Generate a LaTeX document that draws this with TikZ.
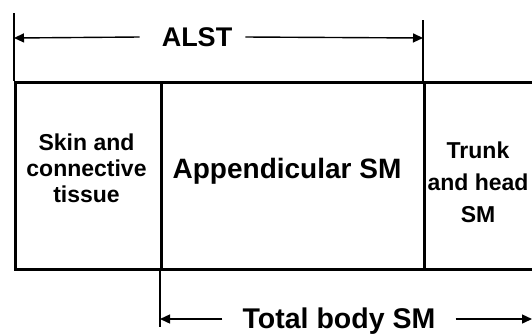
\documentclass[tikz,border=0pt]{standalone}
\usepackage{fontspec}
\setmainfont{Liberation Sans}
\usetikzlibrary{arrows.meta}
\begin{document}
\begin{tikzpicture}[x=1pt,y=-1pt,
  cell/.style={draw=black,line width=3.2pt,inner sep=0pt,anchor=north west},
  tick/.style={draw=black,line width=1.4pt},
  dim/.style={draw=black,line width=1.4pt,-{Triangle[length=10pt,width=9pt]}},
  big/.style={font=\fontsize{28}{32}\selectfont\bfseries,inner sep=0pt},
  small/.style={font=\fontsize{23}{26}\selectfont\bfseries,inner sep=0pt,align=center}]
\useasboundingbox (0,0) rectangle (532,333);
\clip (0,0) rectangle (532,333);
% cells
\node[cell,minimum width=146pt,minimum height=187pt] (skin) at (14,81) {};
\node[cell,minimum width=263pt,minimum height=187pt] (app) at (160,81) {};
\node[cell,minimum width=120pt,minimum height=187pt] (trunk) at (423,81) {};
% labels
\node[small] (skintxt) at (86.5,168) {Skin and\\connective\\tissue};
\node[big] (apptxt) at (287,171) {Appendicular SM};
\node[small,font=\fontsize{23}{32}\selectfont\bfseries] (trunktxt) at (478,182) {Trunk\\and head\\SM};
\node[big,font=\fontsize{27}{32}\selectfont\bfseries] (alst) at (197,37) {ALST};
\node[big,font=\fontsize{28.5}{32}\selectfont\bfseries] (tbsm) at (339,321) {Total\ body\ SM};
% tick coordinates
\coordinate (t1a) at (14,13);
\coordinate (t2a) at (423,20);
\coordinate (t3b) at (160,327);
\coordinate (a1) at (14,38);
\coordinate (a2) at (423,38);
\coordinate (b1) at (160,319);
\coordinate (b2) at (532,319);
\draw[tick] (t1a) -- (skin.north west);
\draw[tick] (t2a) -- (trunk.north west);
\draw[tick] (app.south west) -- (t3b);
% dimension arrows
\draw[dim] (alst.west) ++(-22,0) -- (a1);
\draw[dim] (alst.east) ++(13,0) -- (a2);
\draw[dim] (tbsm.west) ++(-20,-2) -- (b1);
\draw[dim] (tbsm.east) ++(20,-2) -- (b2);
\end{tikzpicture}
\end{document}
